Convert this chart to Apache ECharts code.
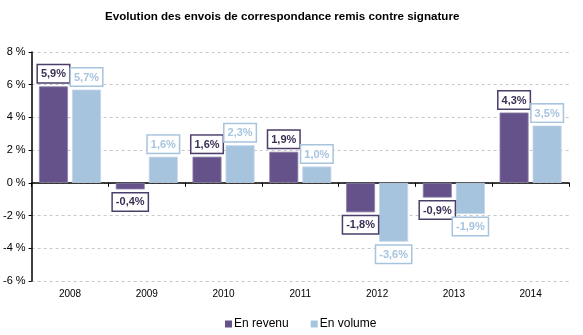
<!DOCTYPE html>
<html><head><meta charset="utf-8">
<script src="https://cdn.jsdelivr.net/npm/echarts@6/dist/echarts.min.js"></script>
<style>html,body{margin:0;padding:0;background:#fff}#c{width:583px;height:335px}</style>
</head><body><div id="c"></div>
<script>
const categories = ['2008','2009','2010','2011','2012','2013','2014'];
const revenu = [5.9, -0.4, 1.6, 1.9, -1.8, -0.9, 4.3];
const volume = [5.7, 1.6, 2.3, 1.0, -3.6, -1.9, 3.5];
const seriesNames = ['En revenu', 'En volume'];
const yTicks = {min: -6, max: 8, interval: 2};

const FONT = 'Liberation Sans, Arial, sans-serif';
function fmt(v){ return String(v.toFixed(1)).replace('.', ',') + '%'; }
function items(arr){
  return arr.map(v => ({value: v, label: {position: v < 0 ? 'bottom' : 'top'}}));
}
function labelCfg(textColor, borderColor){
  return {
    show: true, distance: 4,
    formatter: p => fmt(p.value),
    fontFamily: FONT, fontSize: 11, fontWeight: 'bold', color: textColor,
    backgroundColor: '#fff', borderColor: borderColor, borderWidth: 1.5,
    padding: [3, 3, 2, 3], lineHeight: 12
  };
}
const chart = echarts.init(document.getElementById('c'), null, {renderer: 'canvas'});
chart.setOption({
  animation: false,
  title: {text: 'Evolution des envois de correspondance remis contre signature', left: 100, top: 6,
    textStyle: {fontFamily: FONT, fontSize: 11.6, fontWeight: 'bold', color: '#000'}},
  grid: {left: 31, right: 14, top: 52, bottom: 54},
  legend: {data: seriesNames, left: 220, top: 313, itemWidth: 7, itemHeight: 7, itemGap: 22,
    icon: 'rect', itemStyle: {borderWidth: 0},
    textStyle: {fontFamily: FONT, fontSize: 12, color: '#000', padding: [0,0,0,-3]}},
  xAxis: [
    {type: 'category', data: categories, axisLine: {onZero: true, lineStyle: {color: '#000', width: 1.5}},
     axisTick: {show: true, length: 4, lineStyle: {color: '#000'}}, axisLabel: {show: false}},
    {type: 'category', data: categories, position: 'bottom', axisLine: {show: false}, axisTick: {show: false},
     axisLabel: {fontFamily: FONT, fontSize: 10, color: '#000', margin: 8}}
  ],
  yAxis: {type: 'value', min: yTicks.min, max: yTicks.max, interval: yTicks.interval,
    axisLine: {show: true, lineStyle: {color: '#000', width: 1.5}},
    axisTick: {show: true, length: 3, lineStyle: {color: '#000'}},
    axisLabel: {formatter: v => v + ' %', fontFamily: FONT, fontSize: 11, color: '#000', margin: 6},
    splitLine: {lineStyle: {color: '#c8c8c8', type: [3, 3]}}},
  series: [
    {name: seriesNames[0], type: 'bar', xAxisIndex: 0, data: items(revenu), barWidth: 29, barGap: '14%',
     itemStyle: {color: '#65528A', borderColor: '#8f84a8', borderWidth: 0.8},
     label: labelCfg('#3a2f55', '#4b3e6b')},
    {name: seriesNames[1], type: 'bar', xAxisIndex: 0, data: items(volume), barWidth: 29,
     itemStyle: {color: '#A7C4DE', borderColor: '#c4d6e8', borderWidth: 0.8},
     label: labelCfg('#a7c4de', '#a7c4de')}
  ]
});
</script></body></html>
